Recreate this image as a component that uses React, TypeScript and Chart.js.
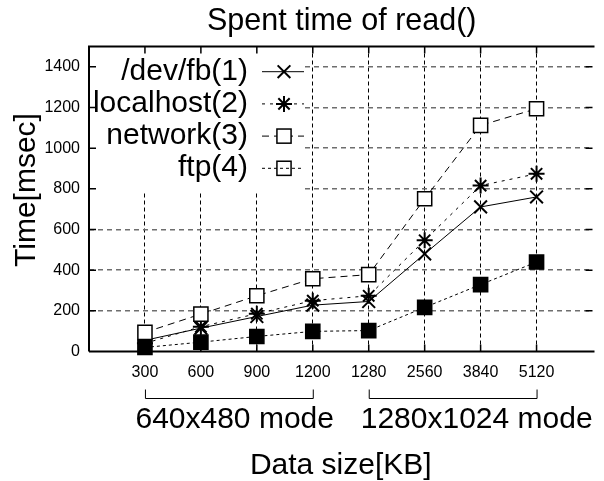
import React, { useEffect, useRef } from 'react';
import { Chart, registerables } from 'chart.js';

Chart.register(...registerables);

// ---- data ----
const dataSizes = ['300', '600', '900', '1200', '1280', '2560', '3840', '5120'];
const devFbMs = [55, 115, 172, 228, 246, 480, 711, 760];
const localhostMs = [40, 122, 186, 250, 274, 547, 816, 874];
const networkMs = [94, 184, 274, 358, 378, 751, 1112, 1194];
const ftpMs = [20, 46, 74, 99, 103, 217, 329, 440];
const yTickValues = [0, 200, 400, 600, 800, 1000, 1200, 1400];
const seriesLabels = ['/dev/fb(1)', 'localhost(2)', 'network(3)', 'ftp(4)'];
const modeLabels = ['640x480 mode', '1280x1024 mode'];
const modeGroups = [['300', '1200'], ['1280', '5120']];
const chartTitle = 'Spent time of read()';
const xTitle = 'Data size[KB]';
const yTitle = 'Time[msec]';

const FONT = '"Liberation Sans", Arial, Helvetica, sans-serif';
const categories = ['', ...dataSizes, ''];
const pad = (arr: number[]) => [null, ...arr, null];

function drawMarker(
  ctx: CanvasRenderingContext2D,
  style: string,
  x: number,
  y: number,
  r: number,
  fill: string,
  lw: number
) {
  ctx.save();
  ctx.setLineDash([]);
  ctx.strokeStyle = '#000';
  ctx.lineWidth = lw;
  if (style === 'crossRot' || style === 'star') {
    const d = r * Math.SQRT1_2;
    ctx.beginPath();
    ctx.moveTo(x - d, y - d);
    ctx.lineTo(x + d, y + d);
    ctx.moveTo(x - d, y + d);
    ctx.lineTo(x + d, y - d);
    if (style === 'star') {
      ctx.moveTo(x - r, y);
      ctx.lineTo(x + r, y);
      ctx.moveTo(x, y - r);
      ctx.lineTo(x, y + r);
    }
    ctx.stroke();
  } else if (style === 'rect') {
    const s = r * Math.SQRT1_2;
    if (fill !== 'transparent') {
      ctx.fillStyle = fill;
      ctx.fillRect(x - s, y - s, 2 * s, 2 * s);
    }
    ctx.strokeRect(x - s, y - s, 2 * s, 2 * s);
  }
  ctx.restore();
}

const legendFills = ['transparent', 'transparent', '#fff', 'transparent'];

const gnuplotPlugin = {
  id: 'gnuplotFrame',
  beforeDatasetsDraw(chart: any) {
    const { ctx, chartArea: a, scales } = chart;
    const xs = scales.x;
    const ys = scales.y;
    ctx.save();
    // opaque key box
    ctx.fillStyle = '#fff';
    ctx.fillRect(a.left + 1, a.top, 304 - a.left, 191 - a.top);

    // frame
    ctx.strokeStyle = '#000';
    ctx.setLineDash([]);
    ctx.lineWidth = 2;
    ctx.beginPath();
    ctx.moveTo(a.left, a.bottom);
    ctx.lineTo(a.left, a.top);
    ctx.lineTo(a.right + 2, a.top);
    ctx.moveTo(a.left, a.bottom);
    ctx.lineTo(a.right + 2, a.bottom);
    ctx.stroke();

    // inward ticks
    ctx.lineWidth = 1.5;
    ctx.beginPath();
    yTickValues.forEach((v) => {
      if (v === 0) return;
      const py = ys.getPixelForValue(v);
      ctx.moveTo(a.left, py);
      ctx.lineTo(a.left + 7, py);
      ctx.moveTo(a.right - 7, py);
      ctx.lineTo(a.right, py);
    });
    dataSizes.forEach((lab) => {
      const px = xs.getPixelForValue(categories.indexOf(lab));
      ctx.moveTo(px, a.bottom);
      ctx.lineTo(px, a.bottom - 7);
      ctx.moveTo(px, a.top);
      ctx.lineTo(px, a.top + 7);
    });
    ctx.stroke();

    // key
    const ds = chart.data.datasets;
    ds.forEach((d: any, i: number) => {
      const rowY = 71.7 + i * 32.2;
      ctx.font = `30px ${FONT}`;
      ctx.fillStyle = '#000';
      ctx.textAlign = 'right';
      ctx.textBaseline = 'alphabetic';
      ctx.fillText(d.label, 248, rowY + 8);
      ctx.save();
      ctx.lineWidth = 1;
      ctx.setLineDash(d.borderDash || []);
      ctx.beginPath();
      ctx.moveTo(262, rowY);
      ctx.lineTo(304, rowY);
      ctx.stroke();
      ctx.restore();
      drawMarker(ctx, d.pointStyle, 284, rowY, d.pointRadius, legendFills[i], d.pointBorderWidth);
    });
    ctx.restore();
  },
  afterDraw(chart: any) {
    const { ctx, chartArea: a, scales } = chart;
    const xs = scales.x;
    ctx.save();
    ctx.fillStyle = '#000';
    ctx.strokeStyle = '#000';
    ctx.textBaseline = 'alphabetic';

    // title
    ctx.font = `30.5px ${FONT}`;
    ctx.textAlign = 'center';
    ctx.fillText(chartTitle, (a.left + a.right) / 2 + 1, 29.5);

    ctx.font = `30px ${FONT}`;
    // x title
    ctx.fillText(xTitle, (a.left + a.right) / 2, 473.5);

    // y title
    ctx.save();
    ctx.translate(34.5, 190);
    ctx.rotate(-Math.PI / 2);
    ctx.textAlign = 'center';
    ctx.fillText(yTitle, 0, 0);
    ctx.restore();

    // mode brackets
    ctx.lineWidth = 1;
    ctx.setLineDash([]);
    modeGroups.forEach((g, i) => {
      const x1 = xs.getPixelForValue(categories.indexOf(g[0]));
      const x2 = xs.getPixelForValue(categories.indexOf(g[1]));
      ctx.beginPath();
      ctx.moveTo(x1 + 0.5, 389.5);
      ctx.lineTo(x1 + 0.5, 398.5);
      ctx.lineTo(x2 + 0.5, 398.5);
      ctx.lineTo(x2 + 0.5, 389.5);
      ctx.stroke();
      ctx.textAlign = 'left';
      ctx.fillText(modeLabels[i], x1 - (i === 0 ? 9.5 : 8), 427.5);
    });
    ctx.restore();
  },
};

export default function App() {
  const ref = useRef<HTMLCanvasElement>(null);

  useEffect(() => {
    if (!ref.current) return;
    const common = {
      borderColor: '#000',
      borderWidth: 1,
      pointBorderColor: '#000',
      tension: 0,
      fill: false,
      clip: false as any,
      spanGaps: false,
    };
    const chart = new Chart(ref.current, {
      type: 'line',
      data: {
        labels: categories,
        datasets: [
          {
            ...common,
            label: seriesLabels[0],
            data: pad(devFbMs),
            borderDash: [],
            pointStyle: 'crossRot',
            pointRadius: 9,
            pointBorderWidth: 2,
            pointBackgroundColor: 'rgba(0,0,0,0)',
            order: 3,
          },
          {
            ...common,
            label: seriesLabels[1],
            data: pad(localhostMs),
            borderDash: [3, 5],
            pointStyle: 'star',
            pointRadius: 8,
            pointBorderWidth: 2,
            pointBackgroundColor: 'rgba(0,0,0,0)',
            order: 2,
          },
          {
            ...common,
            label: seriesLabels[2],
            data: pad(networkMs),
            borderDash: [7, 5],
            pointStyle: 'rect',
            pointRadius: 10,
            pointBorderWidth: 1.5,
            pointBackgroundColor: '#fff',
            order: 1,
          },
          {
            ...common,
            label: seriesLabels[3],
            data: pad(ftpMs),
            borderDash: [3, 3],
            pointStyle: 'rect',
            pointRadius: 10,
            pointBorderWidth: 1.5,
            pointBackgroundColor: '#000',
            order: 0,
          },
        ] as any,
      },
      options: {
        responsive: false,
        devicePixelRatio: 1,
        animation: false,
        events: [],
        layout: { padding: { top: 46.5, right: 0, left: 0, bottom: 0 } },
        plugins: {
          legend: { display: false },
          tooltip: { enabled: false },
          title: { display: false },
        },
        scales: {
          x: {
            type: 'category',
            offset: false,
            afterFit: (s: any) => {
              s.height = 129.5;
            },
            grid: {
              drawTicks: false,
              lineWidth: 1,
              color: (c: any) => (c.index >= 1 && c.index <= dataSizes.length ? '#000' : 'rgba(0,0,0,0)'),
            },
            border: { display: false, dash: [4, 3] },
            ticks: {
              autoSkip: false,
              maxRotation: 0,
              minRotation: 0,
              padding: 11,
              color: '#000',
              font: { family: FONT, size: 16 },
            },
          },
          y: {
            type: 'linear',
            min: 0,
            max: 1500,
            afterFit: (s: any) => {
              s.width = 89;
            },
            afterBuildTicks: (s: any) => {
              s.ticks = yTickValues.map((v) => ({ value: v }));
            },
            grid: {
              drawTicks: false,
              lineWidth: 1.5,
              color: (c: any) => (c.tick && c.tick.value === 0 ? 'rgba(0,0,0,0)' : '#6e6e6e'),
            },
            border: { display: false, dash: [5, 4] },
            ticks: {
              padding: 9,
              color: '#000',
              font: { family: FONT, size: 16 },
              callback: (v: any) => String(v),
            },
          },
        },
      } as any,
      plugins: [gnuplotPlugin],
    });
    return () => chart.destroy();
  }, []);

  return (
    <div style={{ position: 'fixed', left: 0, top: 0, width: 604, height: 481, background: '#fff' }}>
      <canvas ref={ref} width={604} height={481} style={{ display: 'block', width: 604, height: 481 }} />
    </div>
  );
}
